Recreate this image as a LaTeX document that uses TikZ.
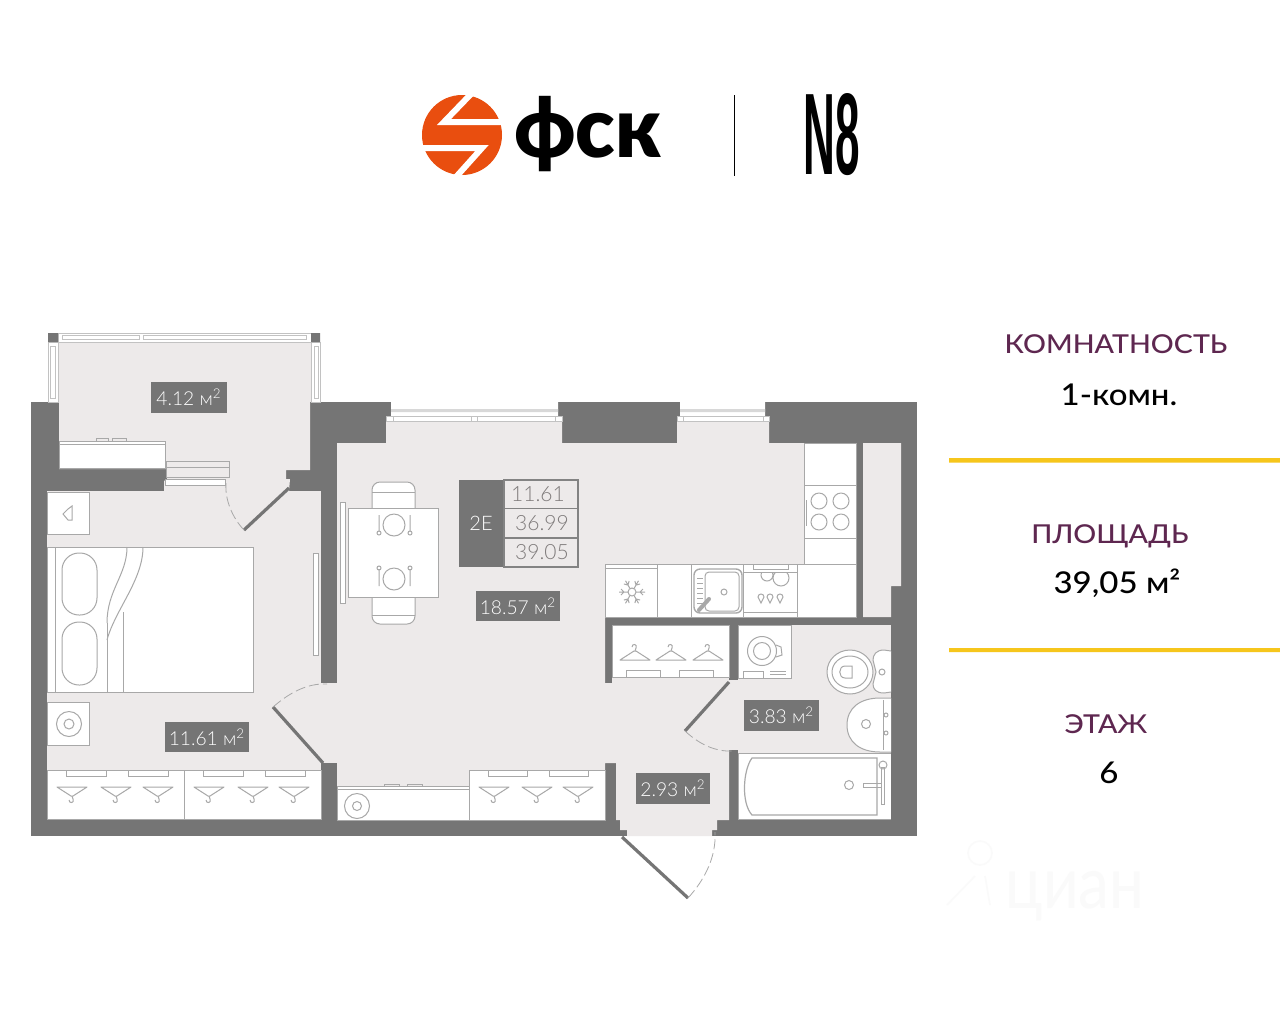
\documentclass[tikz,border=0pt]{standalone}
\usepackage{fontspec}
\setmainfont{Lato}
\newfontfamily\labelfont{Lato Light}
\newfontfamily\headfont[FakeStretch=1.1]{Lato Medium}
\newfontfamily\logofont[FakeStretch=.97]{Lato Black}
\newfontfamily\numfont[FakeStretch=.38]{Liberation Sans Bold}
\newfontfamily\markfont[FakeStretch=.86]{Lato}
\definecolor{wallgray}{HTML}{757575}
\definecolor{floorgray}{HTML}{EDEAEA}
\definecolor{linegray}{HTML}{A8A8A8}
\definecolor{cellgray}{HTML}{7F7B7B}
\definecolor{logoorange}{HTML}{E94E0F}
\definecolor{headplum}{HTML}{5E2750}
\definecolor{ruleyellow}{HTML}{F6C61C}
\definecolor{markfaint}{HTML}{FAFAFA}
\begin{document}
\begin{tikzpicture}[x=.5pt,y=-.5pt,
      wall/.style={fill=wallgray},
      floorarea/.style={fill=floorgray},
      furn/.style={fill=white,draw=linegray,line width=.5pt},
      fline/.style={draw=linegray,line width=.5pt},
      frameline/.style={fill=white,draw=linegray!70,line width=.4pt},
      doorleaf/.style={draw=wallgray,line width=1.6pt},
      doorarc/.style={draw=linegray,line width=.4pt,dash pattern=on 5pt off 2pt},
      arealabel/.style={fill=wallgray,text=white,inner sep=0pt,font=\labelfont\fontsize{9.6}{12}\selectfont},
      cellbox/.style={floorarea,draw=wallgray!90,line width=.6pt},
      cellnum/.style={text=cellgray,inner sep=0pt,font=\labelfont\fontsize{10.5}{12}\selectfont},
      headtext/.style={anchor=base,text=headplum,inner sep=0pt,font=\headfont\fontsize{13}{15}\selectfont},
      valtext/.style={anchor=base,text=black,inner sep=0pt,font=\headfont\fontsize{15}{18}\selectfont},
      pics/hanger/.style={code={
        \draw[fline,line join=round] (-15,0) -- (15,0) -- (1,9) -- (-1,9) -- cycle;
        \draw[fline] (0,9) -- (1,12) .. controls (3,16) and (-3,17) .. (-3,13);
      }},
      pics/knob/.style={code={
        \draw[fline] (-3,-1) .. controls (-3,-5) and (3,-5) .. (3,-1) -- (0,5) -- cycle;
      }}]
  \useasboundingbox (0,0) rectangle (1280,1024);
  \fill[white] (0,0) rectangle (1280,1024);

  \fill[logoorange] (462,135) circle[radius=40];
  \draw[white,line width=3pt,miter limit=10] (471,94) -- (444,122) -- (504,122);
  \draw[white,line width=3pt,miter limit=10] (420,148) -- (482,148) -- (456,177);
  \node[anchor=base,inner sep=0pt,font=\logofont\fontsize{42}{42}\selectfont] (logoname) at (588,157) {фск};
  \draw[black,line width=.5pt] (734,95) -- (734,176);
  \node[inner sep=0pt,font=\numfont\fontsize{58}{58}\selectfont] (logonum) at (832,135) {N8};

  \fill[wall] (31,402) rectangle (917,836);
  \fill[white] (391,402) rectangle (558,416) (680,402) rectangle (765,416);
  \fill[linegray!45] (391,409) rectangle (558,412) (680,409) rectangle (765,412);

  \fill[floorarea] (59,342) -- (310,342) -- (310,402) -- (310,470) -- (286,470) -- (286,479) -- (290,479)
    -- (289,491) -- (164,491) -- (164,481) -- (167,479) -- (167,469) -- (59,469) -- cycle;
  \fill[floorarea] (47,491) rectangle (321,820);
  \fill[floorarea] (321,683) rectangle (337,763);
  \fill[floorarea] (337,443) -- (386,443) -- (386,421) -- (562,421) -- (562,443) -- (677,443) -- (677,421)
    -- (769,421) -- (769,443) -- (856,443) -- (856,617) -- (605,617) -- (605,683) -- (612,683) -- (612,677)
    -- (729,677) -- (729,820) -- (717,820) -- (717,830) -- (712,830) -- (712,836) -- (627,836) -- (627,830)
    -- (620,830) -- (620,820) -- (616,820) -- (616,763) -- (605,763) -- (605,820) -- (337,820) -- cycle;
  \fill[wall] (729,677) rectangle (738,680);
  \fill[floorarea] (729,680) rectangle (738,750);
  \fill[floorarea] (738,625) rectangle (891,753);
  \fill[floorarea] (863,443) -- (901,443) -- (901,586) -- (891,586) -- (891,617) -- (863,617) -- cycle;

  \fill[white] (48,333) rectangle (320,402);
  \fill[floorarea] (58,342) rectangle (311,402);
  \draw[frameline] (58,333) rectangle (311,342);
  \draw[fline,linegray!70] (62,335) rectangle (139,339) (143,335) rectangle (306,339);
  \draw[frameline] (48,342) rectangle (58,402) (311,342) rectangle (320,402);
  \draw[fline,linegray!70] (50,346) rectangle (55,398) (314,346) rectangle (318,398);
  \fill[wallgray] (48,333) rectangle (58,342) (311,333) rectangle (320,342);
  \draw[frameline] (386,416) rectangle (562,421) (677,416) rectangle (769,421);
  \draw[frameline] (386,416) rectangle (393,421) (555,416) rectangle (562,421) (471,416) rectangle (477,421);
  \draw[frameline] (677,416) rectangle (683,421) (763,416) rectangle (769,421);

  \draw[furn] (59,441) rectangle (165,468);
  \draw[fline] (59,444) -- (165,444);
  \draw[fline] (96,441) -- (96,438) -- (108,438) -- (108,441) (112,441) -- (112,438) -- (126,438) -- (126,441);
  \draw[fline,fill=floorgray] (166,461) rectangle (229,477);
  \draw[fline] (166,467) -- (229,467);
  \draw[fline,fill=white] (165,479) rectangle (225,485);

  \draw[furn] (47,492) rectangle (89,534);
  \draw[fline] (72,506) -- (72,520) -- (68,520) -- (63,514) -- (68,509) -- cycle;
  \draw[furn] (47,547) rectangle (253,692);
  \draw[fline] (55,547) -- (55,692);
  \draw[furn,rounded corners=8.5pt] (62,553) rectangle (97,615);
  \draw[furn,rounded corners=8.5pt] (62,622) rectangle (97,685);
  \draw[fline] (107,623) -- (107,692) (123,612) -- (123,692);
  \draw[fline] (127,547) .. controls (127,575) and (107,590) .. (107,623);
  \draw[fline] (143,547) .. controls (143,580) and (115,610) .. (107,640);
  \draw[furn] (47,702) rectangle (89,745);
  \draw[fline] (69,724) circle[radius=12.5] (69,724) circle[radius=5];
  \draw[furn] (313,553) rectangle (318,655);
  \draw[furn] (340,502) rectangle (345,603);

  \draw[furn] (47,770) rectangle (184,819);
  \draw[furn] (184,770) rectangle (321,819);
  \foreach \railx in {66,128,203,265} {
    \draw[fline] (\railx,770) -- (\railx,776) -- ++(40,0) -- ++(0,-6);
  }
  \draw[furn] (469,770) rectangle (605,820);
  \draw[fline] (488,770) -- (488,776) -- (527,776) -- (527,770) (549,770) -- (549,776) -- (588,776) -- (588,770);
  \foreach \hangx in {72,116,158,209,253,294,494,537,578} {
    \pic at (\hangx,787) {hanger};
  }
  \draw[furn] (337,786) rectangle (469,820);
  \draw[fline] (337,789) -- (469,789);
  \draw[fline] (384,786) -- (384,784) -- (399,784) -- (399,786) (407,786) -- (407,784) -- (422,784) -- (422,786);
  \draw[fline] (357,806) circle[radius=12.5] (357,806) circle[radius=4.5];

  \draw[furn,rounded corners=4pt] (372,508) -- (372,482) -- (415,482) -- (415,508);
  \draw[fline] (372,492) -- (415,492);
  \draw[furn,rounded corners=4pt] (372,597) -- (372,624) -- (415,624) -- (415,597);
  \draw[fline] (372,615) -- (415,615);
  \draw[furn] (348,508) rectangle (438,597);
  \draw[fline] (394,525) circle[radius=11] (394,579) circle[radius=11];
  \foreach \forkx in {379,410} {
    \draw[fline] (\forkx,515) -- (\forkx,531) (\forkx,533) circle[radius=2];
    \draw[fline] (\forkx,569) -- (\forkx,586) (\forkx,568) circle[radius=2];
  }

  \fill[wall] (459,480) rectangle (504,567);
  \draw[cellbox] (504,480) rectangle (578,508.5);
  \draw[cellbox] (504,508.5) rectangle (578,538);
  \draw[cellbox] (504,538) rectangle (578,567);
  \node[text=white,inner sep=0pt,font=\labelfont\fontsize{10}{12}\selectfont] (planname) at (481,523) {2Е};
  \node[cellnum] (areaone) at (538,494) {11.61};
  \node[cellnum] (areatwo) at (542,523) {36.99};
  \node[cellnum] (areathree) at (542,552) {39.05};

  \fill[white,draw=linegray,line width=.5pt] (804,443) rectangle (856,564) (605,564) rectangle (856,617);
  \draw[fline] (804,485) -- (856,485) (804,538) -- (856,538);
  \draw[fline] (819,501) circle[radius=8] (841,501) circle[radius=8] (819,522) circle[radius=8] (841,522) circle[radius=8];
  \draw[fline] (806,500) -- (806,526);
  \draw[fline] (605,568) -- (657,568) (657,564) -- (657,617) (691,564) -- (691,617) (743,564) -- (743,617) (797,564) -- (797,617);
  \foreach \spokea in {0,60,...,300} {
    \draw[fline,shift={(632,592)},rotate=\spokea] (4,0) -- (13,0) (8,0) -- (11,3) (8,0) -- (11,-3);
  }
  \draw[fline] (632,592) circle[radius=4];
  \draw[fline,rounded corners=3pt,line width=.7pt] (694,569) rectangle (742,613);
  \draw[fline,rounded corners=2pt] (705,572) rectangle (739,611);
  \draw[fline] (724,592) circle[radius=3];
  \foreach \riby in {578,583,...,603} {
    \draw[fline] (697,\riby) -- (703,\riby);
  }
  \draw[linegray,line width=2pt,line cap=round] (699,610) -- (709,599);
  \draw[fline] (743,572) -- (797,572) (743,612) -- (797,612);
  \draw[fline] (753,564) -- (753,569) -- (788,569) -- (788,564);
  \begin{scope}
    \clip (743,572) rectangle (797,612);
    \draw[fline] (767,575) circle[radius=6] (781,578) circle[radius=8];
  \end{scope}
  \foreach \knobx in {761,770,780} {
    \pic at (\knobx,598) {knob};
  }

  \draw[furn] (612,625) rectangle (729,677);
  \foreach \hangx in {635,671,708} {
    \pic[yscale=-1] at (\hangx,660) {hanger};
  }
  \draw[fline] (626,677) -- (626,670) -- (660,670) -- (660,677) (679,677) -- (679,670) -- (713,670) -- (713,677);

  \draw[furn] (738,625) rectangle (791,678);
  \draw[fline] (762,651) circle[radius=14.5] (762,651) circle[radius=8.5];
  \draw[fline] (776,645) -- (781,647) -- (782,655) -- (776,657);
  \draw[fline] (743,678) -- (743,671) -- (763,671) -- (763,678);
  \draw[fline] (770,671) -- (786,671) (770,674) -- (786,674);

  \draw[furn] (850,672) ellipse[x radius=23,y radius=22];
  \draw[fline] (850,672) ellipse[x radius=18,y radius=16];
  \draw[fline] (852,666) -- (845,666) .. controls (838,666) and (838,678) .. (845,678) -- (852,678) -- cycle;
  \draw[furn] (891,651) -- (884,650) .. controls (876,650) and (873,655) .. (873,660) -- (876,672) -- (873,684)
    .. controls (873,689) and (876,693) .. (884,693) -- (891,692);
  \draw[fline] (882,672) circle[radius=3];
  \draw[furn] (891,698) -- (880,698) .. controls (860,698) and (847,708) .. (847,725)
    .. controls (847,742) and (860,752) .. (880,752) -- (891,752);
  \draw[fline] (883,700) -- (883,750);
  \draw[fline] (866,724) circle[radius=4.5] (886,715) circle[radius=2] (886,733) circle[radius=2];

  \fill[white] (738,754) rectangle (891,820);
  \draw[fline] (738,753) -- (891,753);
  \draw[fline] (738,819.5) -- (891,819.5) (738,754) -- (738,820);
  \draw[fline,line width=.6pt] (877,758) -- (752,758) .. controls (743,770) and (741,803) .. (752,815) -- (877,815) -- cycle;
  \draw[fline] (849,785) circle[radius=4.5];
  \draw[fline] (863,783) rectangle (881,787);
  \draw[fline] (881,767) rectangle (884,804);
  \draw[fline] (883,765) circle[radius=4];

  \draw[doorleaf] (289,488) -- (244,530);
  \draw[doorarc] (244,530) .. controls (232.6,518) and (224.7,500) .. (226,483);
  \draw[doorleaf] (323,763) -- (273,707);
  \draw[doorarc] (273,707) .. controls (288,694) and (306,683) .. (327,684);
  \draw[doorleaf] (729,682) -- (685,731);
  \draw[doorarc] (685,731) .. controls (698,743) and (714,752) .. (733,751);
  \draw[doorleaf] (622,837) -- (688,898);
  \draw[doorarc] (688,898) .. controls (704.5,880) and (716.4,857) .. (715,832);

  \node[arealabel,minimum width=38pt,minimum height=15.5pt] (balconyarea) at (189,397.5) {4.12 м\textsuperscript{2}};
  \node[arealabel,minimum width=42pt,minimum height=15pt] (bedarea) at (207,737) {11.61 м\textsuperscript{2}};
  \node[arealabel,minimum width=42pt,minimum height=15pt] (mainarea) at (518,606) {18.57 м\textsuperscript{2}};
  \node[arealabel,minimum width=37.5pt,minimum height=15.5pt] (batharea) at (781.5,715.5) {3.83 м\textsuperscript{2}};
  \node[arealabel,minimum width=37pt,minimum height=15.5pt] (hallarea) at (673,788.5) {2.93 м\textsuperscript{2}};

  \node[headtext] (roomshead) at (1116,353) {КОМНАТНОСТЬ};
  \node[valtext] (roomsval) at (1119,405) {1-комн.};
  \node[headtext] (sizehead) at (1110,543) {ПЛОЩАДЬ};
  \node[valtext] (sizeval) at (1117,593) {39,05 м²};
  \node[headtext] (floorhead) at (1106,733) {ЭТАЖ};
  \node[valtext] (floorval) at (1109,783) {6};
  \fill[ruleyellow] (949,458) rectangle (1280,462.5) (949,648) rectangle (1280,652);

  \node[anchor=base,text=markfaint,inner sep=0pt,font=\markfont\fontsize{36}{36}\selectfont] (mark) at (1075,908) {циан};
  \draw[markfaint,line width=.8pt] (980,853) circle[radius=12];
  \draw[markfaint,line width=.8pt] (975,876) -- (947,905) (985,876) -- (990,905);
\end{tikzpicture}
\end{document}
